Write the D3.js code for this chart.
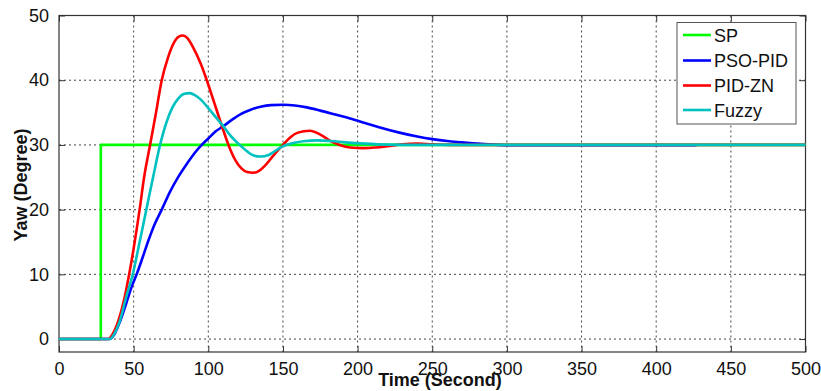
<!DOCTYPE html>
<html>
<head>
<meta charset="utf-8">
<script src="https://cdn.jsdelivr.net/npm/d3@7"></script>
<style>
  html, body { margin: 0; padding: 0; background: #fff; }
  svg { display: block; font-family: "Liberation Sans", Arial, sans-serif; }
</style>
</head>
<body>
<svg id="chart" width="821" height="391"></svg>
<script>
// ---- Data ----
const seriesNames = ["SP", "PSO-PID", "PID-ZN", "Fuzzy"];
const seriesColors = ["#00ff00", "#0000ff", "#ff0000", "#00c0c0"];

const spTime  = [0, 28, 28, 500];
const spValue = [0, 0, 30, 30];

const psoTime  = [0, 34, 37, 41, 45, 49, 52, 56, 60, 64, 68.8, 74, 80, 86, 91, 95.6, 100, 105, 110, 116, 122, 128, 135, 142, 150, 158, 166, 175, 185, 195, 205, 215, 228, 240, 250, 260, 270, 280, 290, 300, 427];
const psoValue = [0, 0, 0.7, 2.8, 5.5, 8.3, 10, 12.6, 15.3, 17.7, 20, 22.6, 25.1, 27.2, 28.8, 30, 31, 32.1, 32.9, 33.9, 34.8, 35.4, 35.9, 36.15, 36.2, 36.1, 35.8, 35.3, 34.7, 34.1, 33.4, 32.7, 31.9, 31.3, 30.9, 30.6, 30.4, 30.2, 30.05, 29.95, 29.95];

const znTime  = [0, 33, 36, 40, 44, 47, 50, 54, 57, 61, 65, 68.8, 73, 77, 80, 83, 86, 90, 95, 99, 104, 109, 113.5, 118, 122, 126, 130, 134, 138, 143, 150, 155, 160, 168, 175, 182, 188, 195, 204, 212, 220, 230, 240, 250, 265, 500];
const znValue = [0, 0, 0.8, 3, 6.5, 10, 14, 20, 25, 30, 35, 40, 43.5, 45.8, 46.7, 46.9, 46.5, 45, 42.5, 40, 36.5, 33, 30, 27.7, 26.4, 25.8, 25.7, 26.0, 26.8, 28.2, 30, 31.2, 31.9, 32.2, 31.6, 30.6, 30, 29.6, 29.5, 29.6, 29.8, 30.1, 30.2, 30.1, 30, 30];

const fuzzyTime  = [0, 34, 37, 41, 45, 49.4, 54, 58.5, 63, 67.7, 72, 76, 80, 84, 87.5, 91, 95, 100, 105, 110, 115, 121, 126, 130, 135, 140, 145, 150, 157, 165, 173, 182, 192, 205, 220, 240, 500];
const fuzzyValue = [0, 0, 0.8, 3, 6.5, 10, 15, 20, 25, 30, 33.5, 35.8, 37.2, 37.9, 38.0, 37.7, 37.0, 35.7, 34.3, 32.9, 31.4, 30, 29, 28.4, 28.2, 28.4, 29.1, 29.8, 30.3, 30.6, 30.7, 30.6, 30.4, 30.2, 30.05, 30, 30];

const xTicks = [0, 50, 100, 150, 200, 250, 300, 350, 400, 450, 500];
const yTicks = [0, 10, 20, 30, 40, 50];
const xLabel = "Time (Second)";
const yLabel = "Yaw (Degree)";

// ---- Layout ----
const svg = d3.select("#chart");
const pL = 59, pR = 805.5, pT = 15.5, pB = 352;
const x = d3.scaleLinear().domain([0, 500]).range([pL, pR]);
const y = d3.scaleLinear().domain([-2, 50]).range([pB, pT]);

// grid
const grid = svg.append("g");
grid.selectAll("line.gx").data(xTicks.slice(1, -1)).enter().append("line")
  .attr("x1", d => x(d)).attr("x2", d => x(d)).attr("y1", pT).attr("y2", pB)
  .attr("stroke", "#444").attr("stroke-width", 1).attr("stroke-dasharray", "2,3");
grid.selectAll("line.gy").data(yTicks).enter().append("line")
  .attr("x1", pL).attr("x2", pR).attr("y1", d => y(d)).attr("y2", d => y(d))
  .attr("stroke", "#444").attr("stroke-width", 1).attr("stroke-dasharray", "2,3");

// frame
svg.append("rect").attr("x", pL).attr("y", pT).attr("width", pR - pL).attr("height", pB - pT)
  .attr("fill", "none").attr("stroke", "#333").attr("stroke-width", 1.2);

// axes (ticks inward)
const xAxisB = d3.axisBottom(x).tickValues(xTicks).tickSize(-6).tickPadding(10).tickFormat(d3.format("d"));
const xAxisT = d3.axisTop(x).tickValues(xTicks).tickSize(-6).tickFormat("");
const yAxisL = d3.axisLeft(y).tickValues(yTicks).tickSize(-6).tickPadding(10).tickFormat(d3.format("d"));
const yAxisR = d3.axisRight(y).tickValues(yTicks).tickSize(-6).tickFormat("");

function styleAxis(g) {
  g.select(".domain").remove();
  g.selectAll(".tick line").attr("stroke", "#333");
  g.selectAll(".tick text").attr("fill", "#111").style("font-size", "18px")
   .style("font-family", "'Liberation Sans', Arial, sans-serif");
}
svg.append("g").attr("transform", `translate(0,${pB})`).call(xAxisB).call(styleAxis);
svg.append("g").attr("transform", `translate(0,${pT})`).call(xAxisT).call(styleAxis);
svg.append("g").attr("transform", `translate(${pL},0)`).call(yAxisL).call(styleAxis);
svg.append("g").attr("transform", `translate(${pR},0)`).call(yAxisR).call(styleAxis);

// lines
const line = d3.line().x(d => x(d[0])).y(d => y(d[1])).curve(d3.curveMonotoneX);
const lineLinear = d3.line().x(d => x(d[0])).y(d => y(d[1]));
const zip = (a, b) => a.map((v, i) => [v, b[i]]);

const series = [
  { t: spTime, v: spValue, c: seriesColors[0], gen: lineLinear },
  { t: psoTime, v: psoValue, c: seriesColors[1], gen: line },
  { t: znTime, v: znValue, c: seriesColors[2], gen: line },
  { t: fuzzyTime, v: fuzzyValue, c: seriesColors[3], gen: line }
];
series.forEach(s => {
  svg.append("path").datum(zip(s.t, s.v)).attr("d", s.gen)
    .attr("fill", "none").attr("stroke", s.c).attr("stroke-width", 2.6)
    .attr("stroke-linejoin", "round");
});

// axis labels
svg.append("text").attr("x", 440).attr("y", 386).attr("text-anchor", "middle")
  .style("font-weight", "bold").style("font-size", "18px").attr("fill", "#111").text(xLabel);
svg.append("text").attr("transform", "translate(27,185) rotate(-90)").attr("text-anchor", "middle")
  .style("font-weight", "bold").style("font-size", "18px").attr("fill", "#111").text(yLabel);

// legend
const lg = svg.append("g");
lg.append("rect").attr("x", 677).attr("y", 22.5).attr("width", 119).attr("height", 101.5)
  .attr("fill", "#fff").attr("stroke", "#555").attr("stroke-width", 1);
const rowY = [35, 60.5, 85.5, 110];
seriesNames.forEach((n, i) => {
  lg.append("line").attr("x1", 683).attr("x2", 711).attr("y1", rowY[i]).attr("y2", rowY[i])
    .attr("stroke", seriesColors[i]).attr("stroke-width", 2.6);
  lg.append("text").attr("x", 714).attr("y", rowY[i] + 6.5).style("font-size", "18px")
    .attr("fill", "#111").text(n);
});
</script>
</body>
</html>
